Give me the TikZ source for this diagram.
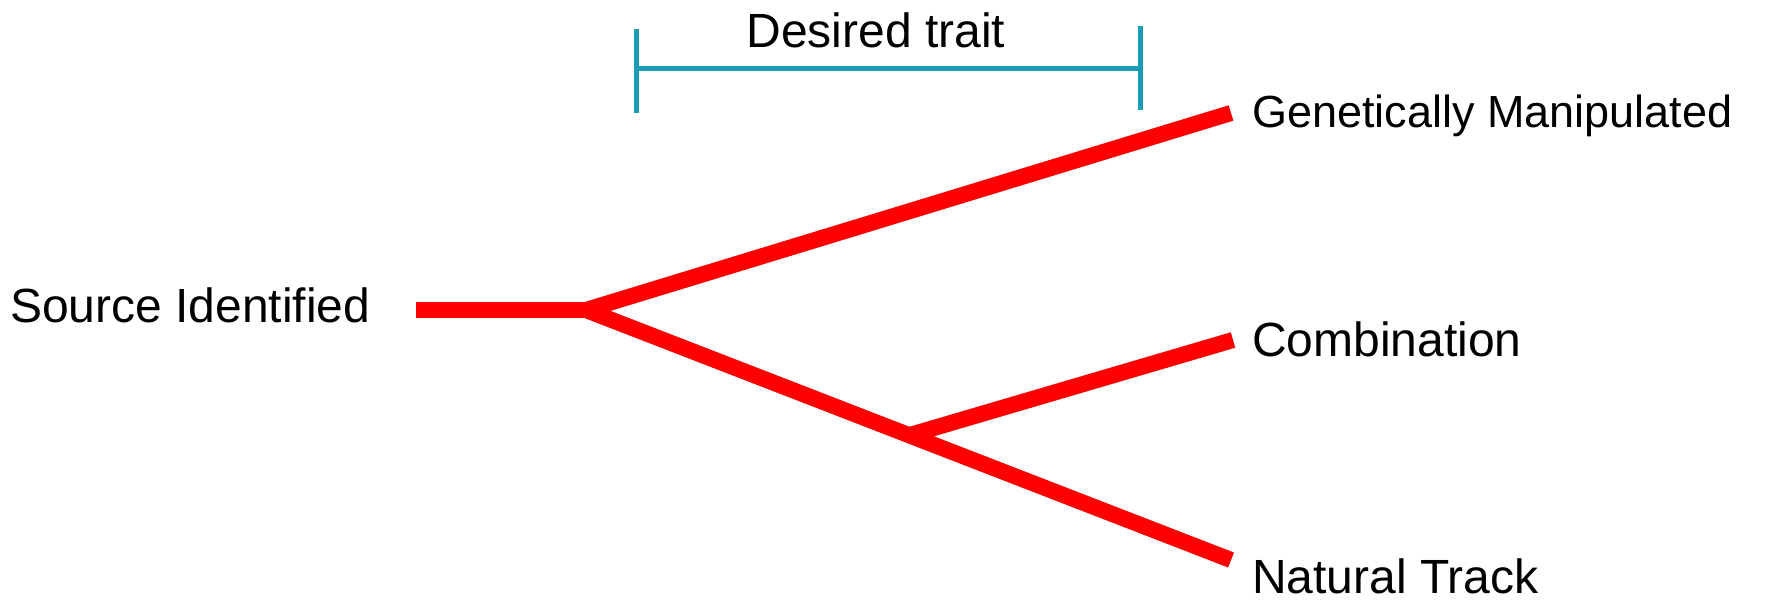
\documentclass[tikz,border=0pt]{standalone}
\usepackage{fontspec}
\setmainfont{Liberation Sans}
\definecolor{branchred}{RGB}{255,0,0}
\definecolor{traitteal}{RGB}{24,156,181}
\tikzset{
  lbl/.style={anchor=base west, inner sep=0pt, font=\fontsize{48}{56}\selectfont},
  branch/.style={draw=branchred, line width=16pt, line cap=butt},
  shadowline/.style={draw=black, opacity=0.18, line width=16pt, line cap=butt},
  bracketline/.style={draw=traitteal, line width=5pt, line cap=butt}
}
\begin{document}
\begin{tikzpicture}[x=1pt,y=-1pt]
\useasboundingbox (0,0) rectangle (1781,602);
\clip (0,0) rectangle (1781,602);
% labels
\node[lbl] (src) at (10,322) {Source Identified};
\node[lbl, font=\fontsize{45}{54}\selectfont] (gm) at (1252,127) {Genetically Manipulated};
\node[lbl] (comb) at (1252,356) {Combination};
\node[lbl] (nat) at (1252,593) {Natural Track};
\node[lbl, anchor=base] (trait) at (876,48) {Desired trait};
% branch points
\coordinate (s0) at (416,310);
\coordinate (j1) at (586,310);
\coordinate (j2) at (910,435);
\coordinate (egm) at (1231,113);
\coordinate (ecomb) at (1233,340);
\coordinate (enat) at (1231,560);
% shadows
\begin{scope}[shift={(2,3)}]
\draw[shadowline] (s0) -- (j1);
\draw[shadowline] (j1) -- (egm);
\draw[shadowline] (j1) -- (enat);
\draw[shadowline] (j2) -- (ecomb);
\end{scope}
% branches
\draw[branch] (s0) -- (j1);
\draw[branch] (j1) -- (egm);
\draw[branch] (j1) -- (enat);
\draw[branch] (j2) -- (ecomb);
% bracket
\coordinate (bl) at (636,69);
\coordinate (br) at (1140,69);
\coordinate (blt) at (636,29);
\coordinate (blb) at (636,113);
\coordinate (brt) at (1140,26);
\coordinate (brb) at (1140,110);
\draw[bracketline] (bl) -- (br);
\draw[bracketline] (blt) -- (blb);
\draw[bracketline] (brt) -- (brb);
\end{tikzpicture}
\end{document}
